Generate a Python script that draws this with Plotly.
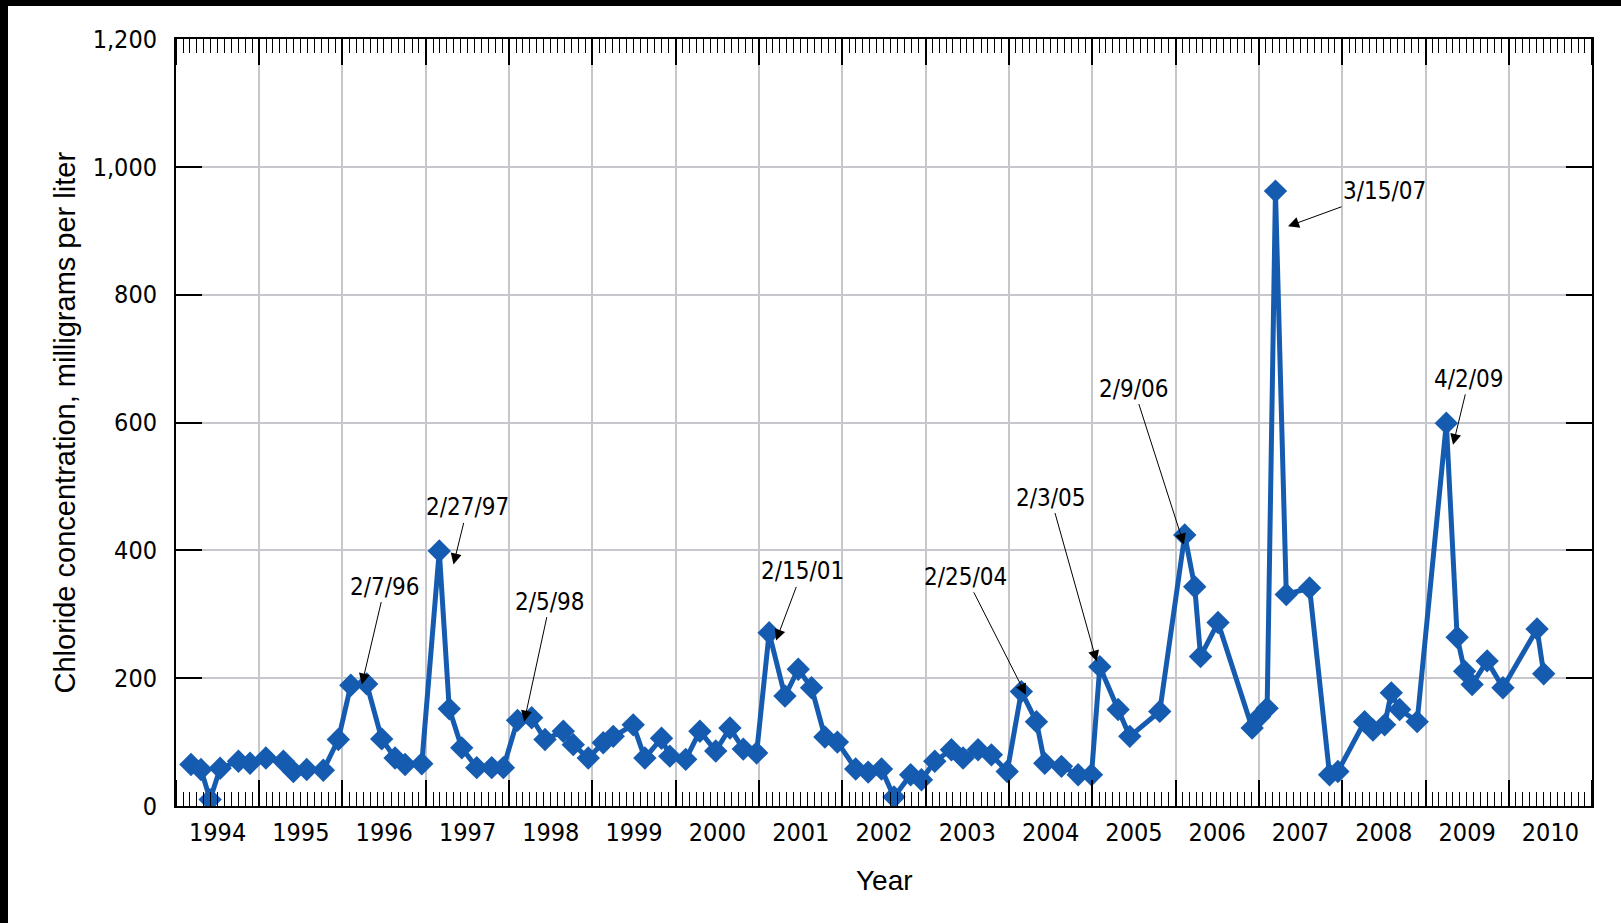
import plotly.graph_objects as go
from datetime import datetime

# ---- data (decimal year of sample, chloride mg/L) ----
sample_year = [
    1994.18, 1994.30, 1994.41, 1994.53, 1994.75, 1994.89, 1995.08, 1995.29, 1995.41, 1995.57,
    1995.77, 1995.95, 1996.10, 1996.29, 1996.47, 1996.63, 1996.75, 1996.95, 1997.16, 1997.28,
    1997.43, 1997.61, 1997.79, 1997.93, 1998.10, 1998.27, 1998.43, 1998.65, 1998.77, 1998.95,
    1999.13, 1999.25, 1999.49, 1999.63, 1999.83, 1999.93, 2000.12, 2000.29, 2000.48, 2000.65,
    2000.81, 2000.97, 2001.12, 2001.31, 2001.47, 2001.63, 2001.79, 2001.94, 2002.16, 2002.31,
    2002.47, 2002.62, 2002.82, 2002.95, 2003.11, 2003.31, 2003.45, 2003.63, 2003.79, 2003.98,
    2004.15, 2004.33, 2004.43, 2004.63, 2004.83, 2004.99, 2005.09, 2005.31, 2005.45, 2005.81,
    2006.11, 2006.23, 2006.30, 2006.51, 2006.92, 2007.01, 2007.10, 2007.20, 2007.33, 2007.61,
    2007.85, 2007.95, 2008.27, 2008.37, 2008.51, 2008.59, 2008.69, 2008.90, 2009.25, 2009.38,
    2009.47, 2009.56, 2009.74, 2009.93, 2010.34, 2010.42,
]
chloride = [
    65, 57, 10, 59, 70, 67, 75, 70, 54, 57,
    56, 104, 189, 191, 105, 75, 65, 66, 399, 152,
    91, 60, 60, 60, 134, 138, 104, 117, 96, 75,
    99, 109, 127, 75, 106, 78, 73, 117, 86, 122,
    89, 83, 271, 172, 214, 185, 108, 100, 58, 53,
    58, 14, 49, 41, 70, 88, 75, 88, 80, 54,
    179, 132, 67, 62, 49, 49, 218, 151, 109, 148,
    424, 343, 234, 287, 122, 140, 153, 962, 331, 341,
    49, 54, 132, 119, 127, 177, 151, 132, 599, 264,
    211, 190, 227, 185, 277, 207,
]

# ---- annotation labels: arrow tip (decimal year, value) and text offset (px) ----
ann_text = ["2/7/96", "2/27/97", "2/5/98", "2/15/01", "2/25/04", "2/3/05", "2/9/06", "3/15/07", "4/2/09"]
ann_tip_year = [1996.232, 1997.331, 1998.180, 2001.204, 2004.204, 2005.052, 2006.100, 2007.351, 2009.331]
ann_tip_value = [190, 378, 132, 259, 174, 226, 409, 907, 565]
ann_dx = [23, 14, 26, 26, -60, -46, -50, 96, 16]
ann_dy = [-98, -57, -120, -69, -118, -164, -156, -35, -66]

year_ticks_start = "1994-01-01"
x_range = ["1994-01-01", "2011-01-01"]
y_range = [0, 1200]


def dec_to_date(y):
    yr = int(y)
    start = datetime(yr, 1, 1)
    end = datetime(yr + 1, 1, 1)
    return start + (end - start) * (y - yr)


dates = [dec_to_date(v) for v in sample_year]

BLUE = "#155CB0"
GRID = "#c6c6cd"
NARROW = "DejaVu Sans Condensed, Liberation Sans Narrow, sans-serif"
REG = "Liberation Sans, Arial, sans-serif"

fig = go.Figure()
fig.add_trace(go.Scatter(
    x=dates, y=chloride, mode="lines+markers",
    line=dict(color=BLUE, width=5),
    marker=dict(symbol="diamond", size=18, color=BLUE, line=dict(width=0)),
    hoverinfo="x+y",
))

W, H = 1621, 923
ML, MR, MT, MB = 176, 29, 39, 117
PW, PH = W - ML - MR, H - MT - MB


def px_to_paper_x(px):
    return (px - ML) / PW


def px_to_paper_y(py):
    return (H - MB - py) / PH


annotations = []
for t, ty, tv, dx, dy in zip(ann_text, ann_tip_year, ann_tip_value, ann_dx, ann_dy):
    annotations.append(dict(
        x=dec_to_date(ty), y=tv, xref="x", yref="y",
        text=t, showarrow=True, ax=dx, ay=dy,
        arrowhead=2, arrowsize=2.2, arrowwidth=1, arrowcolor="black",
        font=dict(family=NARROW, size=24, color="black"),
    ))

annotations.append(dict(
    x=0.5, y=px_to_paper_y(880), xref="paper", yref="paper", text="Year",
    showarrow=False, xanchor="center", yanchor="middle",
    font=dict(family=REG, size=28, color="black"),
))
annotations.append(dict(
    x=px_to_paper_x(64), y=0.5, xref="paper", yref="paper",
    text="Chloride concentration, milligrams per liter", textangle=-90,
    showarrow=False, xanchor="center", yanchor="middle",
    font=dict(family=REG, size=29, color="black"),
))

shapes = [
    dict(type="rect", xref="paper", yref="paper", layer="above",
         x0=px_to_paper_x(0), x1=px_to_paper_x(W), y0=px_to_paper_y(6), y1=px_to_paper_y(0),
         fillcolor="black", line=dict(width=0)),
    dict(type="rect", xref="paper", yref="paper", layer="above",
         x0=px_to_paper_x(0), x1=px_to_paper_x(8), y0=px_to_paper_y(H), y1=px_to_paper_y(0),
         fillcolor="black", line=dict(width=0)),
]

fig.update_layout(
    width=W, height=H,
    margin=dict(l=ML, r=MR, t=MT, b=MB, pad=0),
    paper_bgcolor="white", plot_bgcolor="white",
    showlegend=False,
    annotations=annotations,
    shapes=shapes,
)

fig.update_xaxes(
    type="date", range=x_range, tick0=year_ticks_start, dtick="M12",
    tickformat="%Y", ticklabelmode="period",
    ticks="inside", ticklen=26, tickwidth=2, tickcolor="black",
    showline=True, linecolor="black", linewidth=2, mirror="ticks",
    showgrid=True, gridcolor=GRID, gridwidth=1.5, zeroline=False,
    minor=dict(dtick="M1", ticks="inside", ticklen=14, tickwidth=1.3, tickcolor="black", showgrid=False),
    tickfont=dict(family=NARROW, size=25, color="black"),
    ticklabelstandoff=3,
)
fig.update_yaxes(
    range=y_range, dtick=200, tickformat=",",
    ticks="inside", ticklen=26, tickwidth=2, tickcolor="black",
    showline=True, linecolor="black", linewidth=2, mirror="ticks",
    showgrid=True, gridcolor=GRID, gridwidth=1.5, zeroline=False,
    tickfont=dict(family=NARROW, size=25, color="black"),
    ticklabelstandoff=12,
)

fig.write_html(
    "out.html",
    config={"displayModeBar": False},
    post_script="document.body.style.margin='0px';document.body.style.overflow='hidden';",
)
